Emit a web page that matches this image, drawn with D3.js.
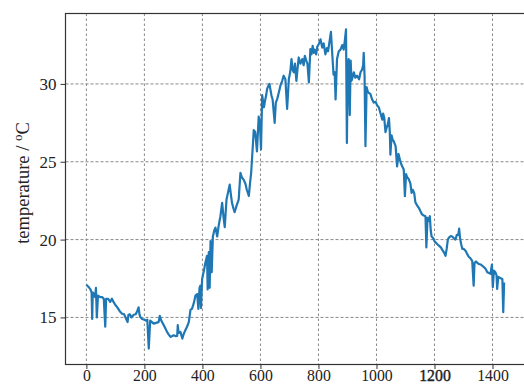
<!DOCTYPE html>
<html>
<head>
<meta charset="utf-8">
<script src="https://cdn.jsdelivr.net/npm/d3@7"></script>
<style>
  body { margin: 0; background: #fff; }
  svg { display: block; }
  .tick text { font-family: "Liberation Serif", serif; font-size: 17px; fill: #222; }
  .x-axis .tick text { font-size: 15.8px; }
  .ylabel { font-family: "Liberation Serif", serif; font-size: 18.5px; fill: #222; }
</style>
</head>
<body>
<div id="chart"></div>
<script>
// --- data: minute of day vs temperature ---
const minutes = [
  0, 5, 10, 14, 18, 20, 22, 26, 30, 33, 36, 40, 48, 55, 60, 65, 68, 75, 82, 88,
  94, 100, 106, 115, 123, 130, 142, 145, 150, 155, 163, 170, 175, 180, 183, 186, 192, 198, 205, 210,
  215, 220, 226, 232, 240, 249, 253, 258, 267, 272, 278, 284, 290, 296, 301, 307, 313, 315, 318, 324,
  331, 334, 337, 341, 347, 353, 359, 364, 370, 376, 382, 386, 390, 393, 395, 399, 405, 410, 416, 418,
  422, 425, 428, 432, 436, 441, 445, 451, 456, 462, 468, 473, 477, 483, 488, 494, 498, 502, 507, 511,
  518, 525, 531, 536, 542, 548, 553, 560, 564, 568, 572, 577, 582, 588, 594, 598, 602, 606, 612, 615,
  620, 623, 628, 631, 638, 642, 649, 653, 658, 664, 669, 675, 680, 686, 692, 698, 703, 707, 711, 715,
  719, 724, 728, 732, 738, 744, 749, 753, 758, 762, 767, 772, 776, 780, 784, 787, 792, 796, 801, 807,
  813, 818, 824, 829, 833, 838, 843, 848, 852, 856, 859, 864, 870, 876, 882, 887, 891, 895, 898, 901,
  904, 908, 911, 914, 917, 922, 927, 933, 940, 945, 950, 954, 956, 959, 962, 966, 970, 975, 979, 985,
  991, 997, 1003, 1008, 1014, 1020, 1023, 1027, 1031, 1035, 1039, 1043, 1046, 1048, 1052, 1056, 1060, 1066, 1071, 1076,
  1080, 1084, 1089, 1094, 1098, 1102, 1106, 1111, 1117, 1121, 1125, 1130, 1134, 1140, 1146, 1152, 1157, 1163, 1169, 1172,
  1176, 1180, 1184, 1187, 1190, 1195, 1200, 1205, 1210, 1216, 1222, 1228, 1233, 1238, 1242, 1246, 1250, 1256, 1261, 1266,
  1272, 1277, 1282, 1285, 1288, 1292, 1296, 1301, 1307, 1312, 1318, 1324, 1330, 1335, 1338, 1343, 1348, 1353, 1359, 1366,
  1372, 1377, 1382, 1388, 1393, 1398, 1401, 1405, 1410, 1414, 1416, 1420, 1425, 1430, 1434, 1437, 1440
];
const temps = [
  17.1, 17.0, 16.9, 16.8, 16.6, 14.9, 16.6, 16.5, 16.3, 16.9, 15.0, 16.4, 16.3, 16.3, 16.2, 14.4, 16.2, 16.2, 16.0, 16.2,
  15.98, 15.8, 15.66, 15.4, 15.24, 15.2, 14.7, 15.17, 15.2, 15.0, 15.17, 15.2, 15.4, 15.65, 15.2, 15.02, 14.9, 14.87, 14.8, 14.85,
  13.0, 14.8, 14.7, 14.6, 14.65, 14.7, 15.1, 14.8, 14.49, 14.3, 14.07, 13.9, 13.75, 13.8, 13.85, 13.8, 13.81, 14.5, 14.0, 14.07,
  13.64, 13.85, 14.0, 14.17, 14.4, 14.7, 15.5, 15.55, 15.9, 16.4, 16.5, 15.55, 16.9, 17.04, 15.6, 17.47, 18.0, 18.5, 18.96, 16.8,
  19.2, 16.9, 19.9, 17.9, 20.2, 20.6, 20.77, 20.2, 20.9, 21.5, 22.36, 21.4, 20.8, 22.57, 23.0, 23.53, 22.9, 22.36, 22.0, 21.76,
  22.2, 22.57, 24.28, 24.0, 23.85, 23.6, 23.2, 22.8, 23.6, 24.28, 25.5, 27.04, 26.9, 25.66, 27.9, 27.5, 25.8, 29.28, 28.5, 28.83,
  29.3, 29.68, 29.9, 30.0, 29.26, 29.0, 27.5, 28.8, 29.04, 29.5, 29.9, 30.2, 30.53, 30.3, 28.4, 30.32, 30.8, 31.6, 30.9, 30.75,
  31.3, 30.2, 31.0, 31.7, 31.3, 31.6, 31.2, 31.8, 31.5, 31.3, 30.1, 32.23, 31.9, 32.45, 32.0, 32.2, 31.9, 32.4, 32.55, 32.87,
  32.34, 32.6, 31.9, 32.3, 32.1, 32.7, 33.35, 31.8, 30.6, 30.75, 29.0, 31.6, 32.1, 32.2, 32.5, 32.2, 32.8, 33.5, 26.2, 31.0,
  31.6, 28.0, 31.5, 30.2, 30.4, 30.75, 30.4, 30.53, 30.3, 30.75, 30.9, 31.2, 32.0, 30.5, 26.0, 29.8, 29.5, 29.4, 29.36, 29.0,
  28.8, 28.85, 28.6, 28.5, 28.1, 27.7, 28.1, 27.8, 26.9, 27.2, 27.4, 27.8, 26.9, 25.45, 26.7, 26.4, 26.3, 26.0, 24.7, 25.5,
  25.2, 24.9, 24.7, 24.5, 22.79, 24.2, 24.0, 23.9, 23.6, 23.0, 23.2, 23.0, 22.4, 22.2, 22.04, 21.8, 21.62, 21.55, 21.5, 19.5,
  21.4, 21.2, 21.5, 20.6, 20.2, 20.1, 19.9, 19.8, 19.7, 19.6, 19.5, 19.3, 19.17, 18.96, 19.4, 20.0, 20.13, 20.23, 20.2, 20.1,
  20.0, 20.3, 20.3, 20.7, 20.1, 19.7, 19.4, 19.4, 19.28, 19.1, 18.9, 18.8, 18.64, 17.04, 18.5, 18.6, 18.5, 18.43, 18.4, 18.3,
  18.2, 18.1, 17.9, 17.85, 17.8, 18.4, 16.94, 18.0, 17.9, 17.7, 16.83, 17.6, 17.55, 17.5, 17.47, 15.34, 17.25
];
const xTicks = [0, 200, 400, 600, 800, 1000, 1200, 1400];
const yTicks = [15, 20, 25, 30];

const series = minutes.map((m, i) => ({ minute: m, temp: temps[i] }));

// --- sizing ---
const width = 524, height = 387;
const plotLeft = 65.5, plotRight = 525, plotTop = 13.5, plotBottom = 364.5;

const svg = d3.select('#chart')
  .append('svg')
  .attr('width', width)
  .attr('height', height);

// --- scales (matplotlib style 5% margins) ---
const xPad = 1440 * 0.05;
const x = d3.scaleLinear()
  .domain([0 - xPad, 1440 + xPad])
  .range([plotLeft, plotRight]);

const yMin = d3.min(temps), yMax = d3.max(temps);
const yPad = (yMax - yMin) * 0.05;
const y = d3.scaleLinear()
  .domain([yMin - yPad, yMax + yPad])
  .range([plotBottom, plotTop]);

// grid
const grid = svg.append('g').attr('class', 'grid');
grid.selectAll('.vgrid')
  .data(xTicks)
  .enter().append('line')
  .attr('x1', d => x(d)).attr('x2', d => x(d))
  .attr('y1', plotTop).attr('y2', plotBottom)
  .attr('stroke', '#888').attr('stroke-width', 1)
  .attr('stroke-dasharray', '2.5,2.5');
grid.selectAll('.hgrid')
  .data(yTicks)
  .enter().append('line')
  .attr('x1', plotLeft).attr('x2', plotRight)
  .attr('y1', d => y(d)).attr('y2', d => y(d))
  .attr('stroke', '#888').attr('stroke-width', 1)
  .attr('stroke-dasharray', '3,2');

// the trace
const line = d3.line()
  .x(d => x(d.minute))
  .y(d => y(d.temp));

svg.append('path')
  .datum(series)
  .attr('fill', 'none')
  .attr('stroke', '#1f77b4')
  .attr('stroke-width', 2.2)
  .attr('stroke-linejoin', 'round')
  .attr('d', line);

// AXIS
const xAxis = d3.axisBottom(x).tickValues(xTicks).tickFormat(d3.format('d')).tickSize(4.5).tickPadding(0.5);
const yAxis = d3.axisLeft(y).tickValues(yTicks).tickFormat(d3.format('d')).tickSize(5).tickPadding(4);

const gx = svg.append('g')
  .attr('class', 'x-axis')
  .attr('transform', `translate(0,${plotBottom})`)
  .call(xAxis);
const gy = svg.append('g')
  .attr('class', 'y-axis')
  .attr('transform', `translate(${plotLeft},0)`)
  .call(yAxis);

[gx, gy].forEach(g => {
  g.select('.domain').remove();
  g.selectAll('.tick line').attr('stroke', '#333').attr('stroke-width', 1);
});
gx.selectAll('.tick text')
  .filter(d => d === 1200)
  .attr('stroke', '#222').attr('stroke-width', 0.4);

// spines
svg.append('rect')
  .attr('x', plotLeft).attr('y', plotTop)
  .attr('width', plotRight - plotLeft).attr('height', plotBottom - plotTop)
  .attr('fill', 'none')
  .attr('stroke', '#333')
  .attr('stroke-width', 1.2);

// y label with superscript o
const ylab = svg.append('text')
  .attr('class', 'ylabel')
  .attr('transform', `translate(29,${(plotTop + plotBottom) / 2 - 6}) rotate(-90)`)
  .attr('text-anchor', 'middle');
ylab.append('tspan').text('temperature  /  ');
ylab.append('tspan').attr('dy', -7).attr('font-size', '13px').text('o');
ylab.append('tspan').attr('dy', 7).text('C');
</script>
</body>
</html>
